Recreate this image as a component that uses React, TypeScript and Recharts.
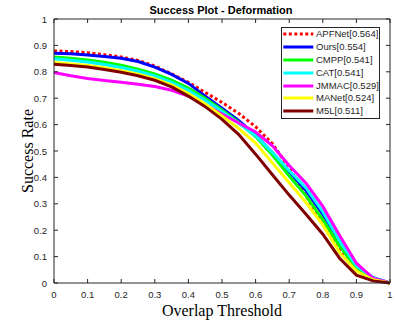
import { Label, Legend, Line, LineChart, ReferenceLine, XAxis, YAxis } from 'recharts'

// overlap thresholds used for the success curves
const thresholds = [
  0, 0.05, 0.1, 0.15, 0.2, 0.25, 0.3, 0.35, 0.4, 0.45, 0.5, 0.55, 0.6, 0.65, 0.7, 0.75, 0.8, 0.85,
  0.9, 0.95, 1,
]

const trackerNames = ['APFNet', 'Ours', 'CMPP', 'CAT', 'JMMAC', 'MANet', 'M5L']
const aucScores = [0.564, 0.554, 0.541, 0.541, 0.529, 0.524, 0.511]

const apfnet = [
  0.879, 0.877, 0.872, 0.865, 0.856, 0.843, 0.822, 0.792, 0.76, 0.722, 0.684, 0.642, 0.592, 0.528,
  0.435, 0.33, 0.225, 0.125, 0.05, 0.015, 0,
]
const ours = [
  0.87, 0.868, 0.864, 0.858, 0.851, 0.839, 0.818, 0.79, 0.756, 0.708, 0.662, 0.615, 0.56, 0.492,
  0.42, 0.35, 0.26, 0.16, 0.065, 0.02, 0,
]
const cmpp = [
  0.856, 0.851, 0.845, 0.836, 0.825, 0.81, 0.792, 0.768, 0.738, 0.7, 0.655, 0.608, 0.555, 0.485,
  0.405, 0.33, 0.24, 0.14, 0.055, 0.015, 0,
]
const cat = [
  0.849, 0.844, 0.837, 0.828, 0.816, 0.802, 0.784, 0.76, 0.73, 0.692, 0.65, 0.605, 0.558, 0.495,
  0.425, 0.36, 0.27, 0.16, 0.065, 0.02, 0,
]
const jmmac = [
  0.797, 0.785, 0.775, 0.767, 0.76, 0.753, 0.744, 0.73, 0.708, 0.675, 0.64, 0.606, 0.572, 0.52,
  0.445, 0.378, 0.29, 0.18, 0.075, 0.018, 0,
]
const manet = [
  0.835, 0.83, 0.824, 0.815, 0.804, 0.791, 0.774, 0.75, 0.718, 0.678, 0.633, 0.585, 0.53, 0.455,
  0.38, 0.305, 0.22, 0.115, 0.045, 0.012, 0,
]
const m5l = [
  0.829, 0.824, 0.818, 0.809, 0.798, 0.785, 0.768, 0.743, 0.708, 0.668, 0.62, 0.562, 0.488, 0.41,
  0.333, 0.26, 0.185, 0.094, 0.03, 0.008, 0,
]

const xTicks = [0, 0.1, 0.2, 0.3, 0.4, 0.5, 0.6, 0.7, 0.8, 0.9, 1]
const yTicks = [0, 0.1, 0.2, 0.3, 0.4, 0.5, 0.6, 0.7, 0.8, 0.9, 1]

const seriesValues = [apfnet, ours, cmpp, cat, jmmac, manet, m5l]
const seriesKeys = ['apfnet', 'ours', 'cmpp', 'cat', 'jmmac', 'manet', 'm5l']

const data = thresholds.map((t, i) => {
  const row: Record<string, number> = { t }
  seriesKeys.forEach((k, s) => {
    row[k] = seriesValues[s][i]
  })
  return row
})

// matlab-ish line styles, same order as the legend
const lineStyles = [
  { color: '#ff0000', dash: '3 2.5' },
  { color: '#0000ff' },
  { color: '#00ff00' },
  { color: '#00ffff' },
  { color: '#ff00ff' },
  { color: '#ffff00' },
  { color: '#800000' },
]

const AXIS = '#262626'
const SANS = '"Liberation Sans", Arial, Helvetica, sans-serif'
const SERIF = '"Liberation Serif", "Times New Roman", serif'
const W = 395
const H = 324
const PLOT = { left: 54, right: 390, top: 19, bottom: 283 }
const TICK_LEN = 4

function XTick({ x, payload }: any) {
  return (
    <g>
      <line x1={x} x2={x} y1={PLOT.bottom} y2={PLOT.bottom - TICK_LEN} stroke={AXIS} />
      <line x1={x} x2={x} y1={PLOT.top} y2={PLOT.top + TICK_LEN} stroke={AXIS} />
      <text x={x} y={297.5} textAnchor="middle" fontSize={9.5} fontFamily={SANS} fill={AXIS}>
        {String(payload.value)}
      </text>
    </g>
  )
}

function YTick({ y, payload }: any) {
  return (
    <g>
      <line x1={PLOT.left} x2={PLOT.left + TICK_LEN} y1={y} y2={y} stroke={AXIS} />
      <line x1={PLOT.right} x2={PLOT.right - TICK_LEN} y1={y} y2={y} stroke={AXIS} />
      <text x={47} y={y + 3.5} textAnchor="end" fontSize={9.5} fontFamily={SANS} fill={AXIS}>
        {String(payload.value)}
      </text>
    </g>
  )
}

function TrackerLegend() {
  return (
    <div style={{ border: `1px solid ${AXIS}`, background: '#fff', width: 97 }}>
      {trackerNames.map((name, i) => (
        <div key={name} style={{ display: 'flex', alignItems: 'center', height: 12.8 }}>
          <svg width={34} height={6} style={{ display: 'block' }}>
            <line
              x1={1.3}
              x2={31.3}
              y1={3}
              y2={3}
              stroke={lineStyles[i].color}
              strokeWidth={3}
              strokeDasharray={lineStyles[i].dash}
            />
          </svg>
          <span style={{ fontSize: 9.5, fontFamily: SANS, color: AXIS, lineHeight: '12px' }}>
            {name}[{aucScores[i].toFixed(3)}]
          </span>
        </div>
      ))}
    </div>
  )
}

export default function App() {
  return (
    <div style={{ position: 'absolute', left: 0, top: 0, width: W, height: H, background: '#fff' }}>
      <div
        style={{
          position: 'absolute',
          left: 0,
          width: 442,
          top: 4,
          textAlign: 'center',
          fontFamily: SANS,
          fontWeight: 'bold',
          fontSize: 11,
          lineHeight: '13px',
          color: '#000',
        }}
      >
        Success Plot - Deformation
      </div>
      <LineChart
        width={W}
        height={H}
        data={data}
        margin={{ top: PLOT.top, right: W - PLOT.right, bottom: 0, left: 0 }}
      >
        <XAxis
          type="number"
          dataKey="t"
          domain={[0, 1]}
          ticks={xTicks}
          interval={0}
          height={H - PLOT.bottom}
          axisLine={{ stroke: AXIS }}
          tickLine={false}
          tick={<XTick />}
        >
          <Label
            content={() => (
              <text x={222} y={316} textAnchor="middle" fontSize={16} fontFamily={SERIF} fill="#000">
                Overlap Threshold
              </text>
            )}
          />
        </XAxis>
        <YAxis
          type="number"
          domain={[0, 1]}
          ticks={yTicks}
          interval={0}
          width={PLOT.left}
          axisLine={{ stroke: AXIS }}
          tickLine={false}
          tick={<YTick />}
        >
          <Label
            content={() => (
              <text
                x={0}
                y={0}
                transform={`translate(33, ${(PLOT.top + PLOT.bottom) / 2}) rotate(-90)`}
                textAnchor="middle"
                fontSize={16}
                fontFamily={SERIF}
                fill="#000"
              >
                Success Rate
              </text>
            )}
          />
        </YAxis>
        <ReferenceLine y={1} stroke={AXIS} />
        <ReferenceLine x={1} stroke={AXIS} />
        {seriesKeys.map((k, i) => (
          <Line
            key={k}
            type="linear"
            dataKey={k}
            stroke={lineStyles[i].color}
            strokeWidth={3}
            strokeDasharray={lineStyles[i].dash}
            dot={false}
            activeDot={false}
            isAnimationActive={false}
          />
        ))}
        <Legend
          layout="vertical"
          align="center"
          verticalAlign="middle"
          content={<TrackerLegend />}
          wrapperStyle={{ left: 281, top: 27, width: 99 }}
        />
      </LineChart>
    </div>
  )
}
